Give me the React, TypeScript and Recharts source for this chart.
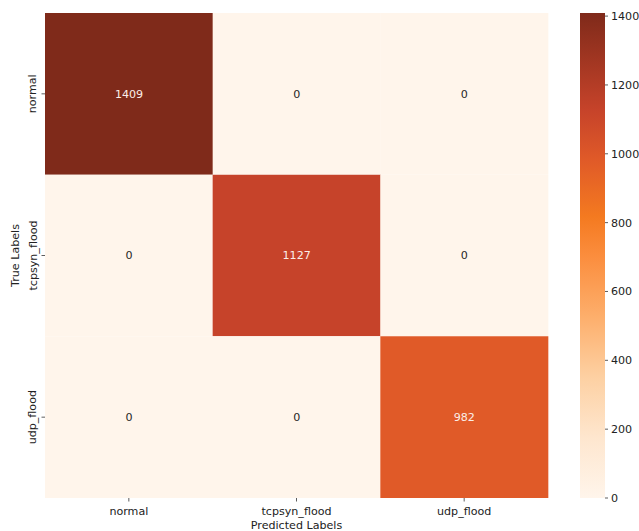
import React from "react";
import { BarChart, Bar, XAxis, YAxis, Cell, LabelList } from "recharts";

const predictedLabels = ["normal", "tcpsyn_flood", "udp_flood"];
const trueLabels = ["normal", "tcpsyn_flood", "udp_flood"];
// rows = true label, columns = predicted label
const counts = [
  [1409, 0, 0],
  [0, 1127, 0],
  [0, 0, 982],
];
const colorbarTicks = [0, 200, 400, 600, 800, 1000, 1200, 1400];

const FONT = "'DejaVu Sans', sans-serif";
const FS = 11.1;
const TEXT = "#222";
const maxCount = Math.max(...counts.flat());

// orange colormap, position 0..1 -> colour
const cmap: [number, string][] = [
  [0, "#fff5eb"],
  [0.125, "#fee6ce"],
  [0.25, "#fdd0a2"],
  [0.375, "#fdae6b"],
  [0.5, "#fb8d3d"],
  [0.58, "#f47a20"],
  [0.697, "#e05a28"],
  [0.8, "#c6432a"],
  [1, "#7f2a1a"],
];

const hexToRgb = (h: string) => [1, 3, 5].map((i) => parseInt(h.slice(i, i + 2), 16));

function colorFor(v: number) {
  const t = Math.min(1, Math.max(0, v / maxCount));
  for (let k = 1; k < cmap.length; k++) {
    const [t1, c1] = cmap[k];
    const [t0, c0] = cmap[k - 1];
    if (t <= t1) {
      const f = (t - t0) / (t1 - t0);
      const a = hexToRgb(c0);
      const b = hexToRgb(c1);
      const rgb = a.map((x, i) => Math.round(x + (b[i] - x) * f));
      return `rgb(${rgb.join(",")})`;
    }
  }
  return cmap[cmap.length - 1][1];
}

const textColorFor = (v: number) => (v / maxCount > 0.5 ? "#fbeee8" : "#262626");

// one unit-high stacked segment per true label in each predicted column
const heatData = predictedLabels.map((name) => {
  const row: Record<string, string | number> = { name };
  trueLabels.forEach((t) => (row[t] = 1));
  return row;
});

const colorbarData = [{ name: "scale", value: maxCount }];

const YTick = (props: any) => {
  const { x, y, payload } = props;
  const label = trueLabels[Math.floor(payload.value)];
  const tx = x - 5;
  return (
    <text
      x={tx}
      y={y}
      transform={`rotate(-90, ${tx}, ${y})`}
      textAnchor="middle"
      fontSize={FS}
      fontFamily={FONT}
      fill={TEXT}
    >
      {label}
    </text>
  );
};

const XTick = (props: any) => {
  const { x, y, payload } = props;
  return (
    <text x={x} y={y + 11.5} textAnchor="middle" fontSize={FS} fontFamily={FONT} fill={TEXT}>
      {payload.value}
    </text>
  );
};

export default function App() {
  return (
    <div style={{ position: "absolute", left: 0, top: 0, width: 639, height: 531, background: "#fff", overflow: "hidden" }}>
      <div style={{ position: "absolute", left: 0, top: 0 }}>
        <BarChart
          width={569}
          height={531}
          data={heatData}
          barCategoryGap={0}
          margin={{ top: 13, right: 21, bottom: 0, left: 0 }}
        >
          <XAxis
            dataKey="name"
            height={33}
            axisLine={false}
            tickSize={3.5}
            tickLine={{ stroke: "#333", strokeWidth: 0.8 }}
            tick={<XTick />}
            interval={0}
            label={{
              content: ({ viewBox }: any) => (
                <text
                  x={viewBox.x + viewBox.width / 2}
                  y={528.5}
                  textAnchor="middle"
                  fontSize={FS}
                  fontFamily={FONT}
                  fill={TEXT}
                >
                  Predicted Labels
                </text>
              ),
            }}
          />
          <YAxis
            type="number"
            domain={[0, 3]}
            reversed
            ticks={[0.5, 1.5, 2.5]}
            width={45}
            axisLine={false}
            tickSize={3.5}
            tickMargin={0}
            tickLine={{ stroke: "#333", strokeWidth: 0.8 }}
            tick={<YTick />}
            label={{
              content: ({ viewBox }: any) => {
                const lx = 19;
                const ly = viewBox.y + viewBox.height / 2;
                return (
                  <text
                    x={lx}
                    y={ly}
                    transform={`rotate(-90, ${lx}, ${ly})`}
                    textAnchor="middle"
                    fontSize={FS}
                    fontFamily={FONT}
                    fill={TEXT}
                  >
                    True Labels
                  </text>
                );
              },
            }}
          />
          {trueLabels.map((t, i) => (
            <Bar key={t} dataKey={t} stackId="cm" isAnimationActive={false}>
              {predictedLabels.map((p, j) => (
                <Cell key={p} fill={colorFor(counts[i][j])} />
              ))}
              <LabelList
                dataKey={t}
                content={(props: any) => {
                  const { x, y, width, height, index } = props;
                  const v = counts[i][index];
                  return (
                    <text
                      x={x + width / 2}
                      y={y + height / 2}
                      dy="0.36em"
                      textAnchor="middle"
                      fontSize={FS}
                      fontFamily={FONT}
                      fill={textColorFor(v)}
                    >
                      {v}
                    </text>
                  );
                }}
              />
            </Bar>
          ))}
        </BarChart>
      </div>

      {/* colorbar */}
      <div style={{ position: "absolute", left: 570, top: 0 }}>
        <BarChart
          width={69}
          height={531}
          data={colorbarData}
          barCategoryGap={0}
          margin={{ top: 13, right: 0, bottom: 33, left: 10 }}
        >
          <defs>
            <linearGradient id="cbar" x1="0" y1="1" x2="0" y2="0">
              {cmap.map(([o, c]) => (
                <stop key={o} offset={o} stopColor={c} />
              ))}
            </linearGradient>
          </defs>
          <XAxis dataKey="name" hide />
          <YAxis
            orientation="right"
            type="number"
            domain={[0, maxCount]}
            ticks={colorbarTicks}
            width={34}
            axisLine={false}
            tickSize={3}
            tickMargin={3}
            tickLine={{ stroke: "#333", strokeWidth: 0.8 }}
            tick={{ fontSize: FS, fontFamily: FONT, fill: TEXT }}
            interval={0}
          />
          <Bar dataKey="value" fill="url(#cbar)" isAnimationActive={false} />
        </BarChart>
      </div>
    </div>
  );
}
